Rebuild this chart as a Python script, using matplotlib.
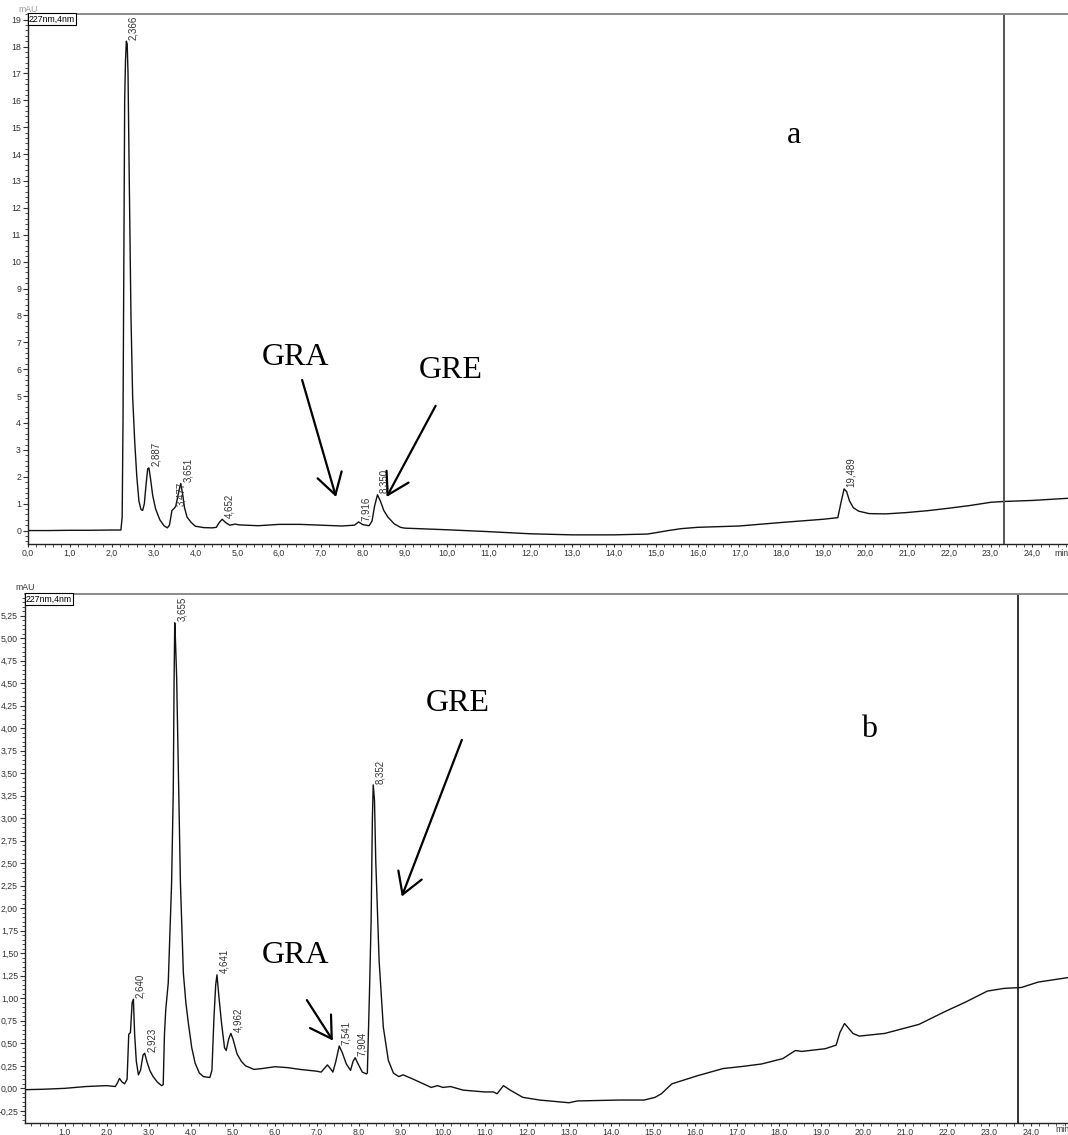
import matplotlib
matplotlib.use("Agg")
import matplotlib.pyplot as plt
from matplotlib.ticker import MultipleLocator, FuncFormatter

plt.rcParams['font.family'] = ['Liberation Sans', 'DejaVu Sans']

# ---------------- data: chromatogram a ----------------
t_a = [0.0, 0.5, 1.0, 1.5, 2.0, 2.22, 2.25, 2.27, 2.29, 2.31, 2.33, 2.35, 2.37, 2.39,
       2.42, 2.46, 2.50, 2.55, 2.60, 2.65, 2.70, 2.74, 2.78, 2.82, 2.86, 2.89, 2.93,
       2.98, 3.05, 3.15, 3.25, 3.33, 3.38, 3.44, 3.49, 3.53, 3.57, 3.61, 3.65, 3.69,
       3.74, 3.80, 3.90, 4.0, 4.2, 4.4, 4.5, 4.57, 4.64, 4.72, 4.82, 4.95, 5.05, 5.5,
       6.0, 6.5, 7.0, 7.5, 7.8, 7.9, 8.0, 8.15, 8.22, 8.28, 8.35, 8.42, 8.5, 8.6,
       8.75, 8.9, 9.0, 9.5, 10.0, 11.0, 12.0, 13.0, 14.0, 14.8, 15.0, 15.3, 15.6,
       16.0, 17.0, 18.0, 18.5, 19.0, 19.35, 19.42, 19.5, 19.56, 19.63, 19.72, 19.85,
       20.1, 20.5, 21.0, 21.5, 22.0, 22.5, 23.0, 23.3, 24.0, 24.85]
y_a = [0.0, 0.0, 0.01, 0.01, 0.02, 0.02, 0.5, 4.0, 10.0, 16.0, 17.5, 18.2, 18.1, 17.0,
       13.0, 8.0, 5.0, 3.3, 2.0, 1.1, 0.78, 0.75, 1.0, 1.7, 2.3, 2.33, 1.9,
       1.3, 0.8, 0.4, 0.18, 0.1, 0.2, 0.75, 0.82, 0.9, 1.2, 1.5, 1.75, 1.4,
       0.85, 0.5, 0.3, 0.16, 0.11, 0.1, 0.12, 0.3, 0.42, 0.3, 0.2, 0.24, 0.21, 0.18,
       0.23, 0.23, 0.2, 0.17, 0.2, 0.32, 0.22, 0.18, 0.35, 0.9, 1.33, 1.1, 0.75, 0.5,
       0.25, 0.12, 0.09, 0.06, 0.03, -0.04, -0.12, -0.16, -0.16, -0.13, -0.08, 0.0, 0.07,
       0.12, 0.17, 0.3, 0.36, 0.42, 0.48, 1.0, 1.55, 1.45, 1.1, 0.85, 0.72,
       0.63, 0.62, 0.67, 0.74, 0.83, 0.93, 1.05, 1.08, 1.12, 1.2]
peak_lab_a = ["2,366", "2,887", "3,477", "3,651", "4,652", "7,916", "8,350", "19,489"]
peak_t_a = [2.35, 2.88, 3.50, 3.65, 4.64, 7.90, 8.35, 19.50]
peak_h_a = [18.2, 2.35, 0.85, 1.75, 0.42, 0.32, 1.33, 1.55]

# ---------------- data: chromatogram b ----------------
t_b = [0.05, 0.5, 1.0, 1.5, 2.0, 2.2, 2.25, 2.3, 2.36, 2.42, 2.48, 2.52, 2.56, 2.6,
       2.63, 2.66, 2.7, 2.75, 2.8, 2.86, 2.9, 2.95, 3.02, 3.1, 3.2, 3.3, 3.34, 3.37,
       3.4, 3.46, 3.54, 3.58, 3.6, 3.615, 3.63, 3.66, 3.7, 3.75, 3.82, 3.88, 3.94,
       4.02, 4.1, 4.2, 4.3, 4.45, 4.5, 4.55, 4.59, 4.62, 4.67, 4.73, 4.8, 4.84, 4.9,
       4.95, 5.0, 5.1, 5.2, 5.3, 5.5, 5.7, 6.0, 6.3, 6.6, 7.0, 7.1, 7.25, 7.32, 7.38,
       7.45, 7.53, 7.6, 7.7, 7.8, 7.86, 7.91, 7.97, 8.08, 8.18, 8.2, 8.25, 8.29, 8.32,
       8.34, 8.37, 8.4, 8.48, 8.58, 8.7, 8.82, 8.95, 9.05, 9.1, 9.3, 9.72, 9.87,
       10.0, 10.18, 10.48, 10.99, 11.2, 11.29, 11.44, 11.6, 11.9, 12.3, 13.0, 13.2,
       14.2, 14.79, 15.05, 15.2, 15.45, 16.06, 16.67, 17.07, 17.58, 18.09, 18.39,
       18.54, 19.1, 19.36, 19.45, 19.56, 19.76, 19.91, 20.52, 20.93, 21.33, 21.94,
       22.45, 22.96, 23.36, 23.77, 24.17, 24.88]
y_b = [-0.015, -0.01, 0.0, 0.02, 0.03, 0.02, 0.06, 0.11, 0.07, 0.05, 0.1, 0.6, 0.62, 0.95,
       0.99, 0.6, 0.3, 0.15, 0.2, 0.37, 0.39, 0.3, 0.2, 0.13, 0.07, 0.03, 0.04, 0.6,
       0.87, 1.17, 2.28, 3.31, 4.57, 5.17, 5.0, 4.57, 3.53, 2.28, 1.28, 0.95, 0.72,
       0.45, 0.28, 0.17, 0.13, 0.12, 0.2, 0.8, 1.15, 1.26, 1.0, 0.72, 0.45, 0.42, 0.55,
       0.61, 0.55, 0.38, 0.3, 0.25, 0.21, 0.22, 0.24, 0.23, 0.21, 0.19, 0.18, 0.26, 0.22, 0.18,
       0.3, 0.47, 0.4, 0.27, 0.2, 0.3, 0.34, 0.28, 0.18, 0.16, 0.17, 1.05, 1.87, 3.0,
       3.37, 3.2, 2.53, 1.42, 0.68, 0.31, 0.17, 0.13, 0.15, 0.14, 0.1, 0.01, 0.03,
       0.01, 0.02, -0.02, -0.04, -0.04, -0.06, 0.03, -0.02, -0.1, -0.13, -0.16, -0.14,
       -0.13, -0.13, -0.1, -0.06, 0.05, 0.14, 0.22, 0.24, 0.27, 0.33, 0.42,
       0.41, 0.44, 0.48, 0.62, 0.72, 0.61, 0.58, 0.61, 0.66, 0.71, 0.85,
       0.96, 1.08, 1.11, 1.12, 1.18, 1.23]
peak_lab_b = ["2,640", "2,923", "3,655", "4,641", "4,962", "7,541", "7,904", "8,352"]
peak_t_b = [2.62, 2.90, 3.615, 4.62, 4.95, 7.53, 7.91, 8.34]
peak_h_b = [0.99, 0.39, 5.17, 1.26, 0.61, 0.47, 0.34, 3.37]

W, H = 1068, 1135
fig = plt.figure(figsize=(W / 100, H / 100), dpi=100)

def fx(px):
    return px / W

def fy(py):
    return 1 - py / H

ax_a = fig.add_axes([fx(28), fy(544), 1 - fx(28), fy(14) - fy(544)])
ax_b = fig.add_axes([fx(25), fy(1123), 1 - fx(25), fy(594) - fy(1123)])

TICKFS = 6.3
TICKCOL = '#333333'
PEAKFS = 7.0
PEAKFONT = ['Liberation Sans Narrow', 'Liberation Sans', 'DejaVu Sans']


def style_axes(ax, xfmt, yfmt, xmaj, xmin_, ymaj, ymin_):
    ax.spines['right'].set_visible(False)
    ax.spines['top'].set_color('#8a8a8a')
    ax.spines['top'].set_linewidth(1.4)
    for s in ['left', 'bottom']:
        ax.spines[s].set_color('#222222')
        ax.spines[s].set_linewidth(1.0)
    ax.xaxis.set_major_locator(MultipleLocator(xmaj))
    ax.xaxis.set_minor_locator(MultipleLocator(xmin_))
    ax.yaxis.set_major_locator(MultipleLocator(ymaj))
    ax.yaxis.set_minor_locator(MultipleLocator(ymin_))
    ax.xaxis.set_major_formatter(FuncFormatter(xfmt))
    ax.yaxis.set_major_formatter(FuncFormatter(yfmt))
    ax.tick_params(which='major', direction='out', length=3.5, width=0.8,
                   labelsize=TICKFS, labelcolor=TICKCOL, pad=1.5, color='#333333')
    ax.tick_params(which='minor', direction='out', length=2.2, width=0.6, color='#333333')
    ax.tick_params(axis='x', which='major', length=2.5, pad=1.0)
    ax.tick_params(top=False, right=False)


# ---------- panel a ----------
ax_a.plot(t_a, y_a, color='#111111', lw=1.0)
ax_a.set_xlim(0, 24.85)
ax_a.set_ylim(-0.5, 19.21)
style_axes(ax_a, lambda v, p: f"{v:.1f}".replace('.', ','),
           lambda v, p: f"{v:.0f}", 1.0, 0.2, 1.0, 0.2)
ax_a.axvline(23.33, color='#555555', lw=1.4)
for lab, t, h in zip(peak_lab_a, peak_t_a, peak_h_a):
    ax_a.annotate(lab, xy=(t, h), xytext=(1.5, 1), textcoords='offset points',
                  rotation=90, ha='left', va='bottom', fontsize=PEAKFS,
                  family=PEAKFONT, color='#333333')
ax_a.text(0.001, 0.999, "227nm,4nm", transform=ax_a.transAxes, ha='left', va='top',
          fontsize=6.3, bbox=dict(boxstyle='square,pad=0.12', fc='white', ec='black', lw=0.8))
ax_a.text(0.0, 1.0, "mAU", transform=ax_a.transAxes, ha='center', va='bottom',
          fontsize=6.3, color='#999999', zorder=0)
ax_a.text(24.52, -0.85, "min", ha='left', va='center', fontsize=TICKFS, color=TICKCOL,
          clip_on=False)

# ---------- panel b ----------
ax_b.plot(t_b, y_b, color='#111111', lw=1.0)
ax_b.set_xlim(0.05, 24.88)
ax_b.set_ylim(-0.385, 5.49)
style_axes(ax_b, lambda v, p: f"{v:.1f}",
           lambda v, p: f"{v:.2f}".replace('.', ','), 1.0, 0.2, 0.25, 0.05)
ax_b.axvline(23.69, color='#222222', lw=1.3)
for lab, t, h in zip(peak_lab_b, peak_t_b, peak_h_b):
    ax_b.annotate(lab, xy=(t, h), xytext=(1.5, 1), textcoords='offset points',
                  rotation=90, ha='left', va='bottom', fontsize=PEAKFS,
                  family=PEAKFONT, color='#333333')
ax_b.text(0.001, 0.999, "227nm,4nm", transform=ax_b.transAxes, ha='left', va='top',
          fontsize=6.3, bbox=dict(boxstyle='square,pad=0.12', fc='white', ec='black', lw=0.8))
ax_b.text(0.0, 1.004, "mAU", transform=ax_b.transAxes, ha='center', va='bottom',
          fontsize=6.3, color='#333333')
ax_b.text(24.58, -0.455, "min", ha='left', va='center', fontsize=TICKFS, color=TICKCOL,
          clip_on=False)

# ---------- annotations (serif) ----------
SERIF = dict(family=['Liberation Serif', 'DejaVu Serif'], fontsize=23, color='black')
ARROW = dict(arrowstyle='->,head_length=0.75,head_width=0.45', lw=1.6, color='black',
             shrinkA=0, shrinkB=0, mutation_scale=20)

ax_a.text(6.4, 6.45, "GRA", ha='center', va='center', **SERIF)
ax_a.text(10.1, 5.94, "GRE", ha='center', va='center', **SERIF)
ax_a.text(18.3, 14.7, "a", ha='center', va='center', **SERIF)
ax_a.annotate("", xy=(7.36, 1.25), xytext=(6.55, 5.6), arrowprops=ARROW)
ax_a.annotate("", xy=(8.57, 1.25), xytext=(9.74, 4.64), arrowprops=ARROW)

ax_b.text(10.36, 4.27, "GRE", ha='center', va='center', **SERIF)
ax_b.text(20.14, 3.99, "b", ha='center', va='center', **SERIF)
ax_b.text(6.5, 1.48, "GRA", ha='center', va='center', **SERIF)
ax_b.annotate("", xy=(9.02, 2.13), xytext=(10.45, 3.87), arrowprops=ARROW)
ax_b.annotate("", xy=(7.38, 0.53), xytext=(6.76, 0.98), arrowprops=ARROW)

fig.savefig("out.png", dpi=100)
